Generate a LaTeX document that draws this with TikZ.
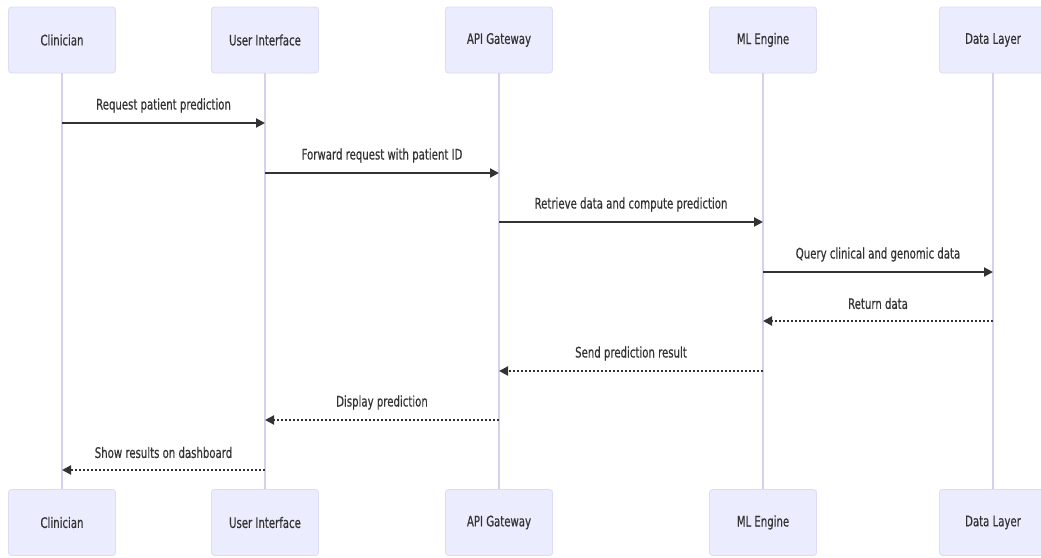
\documentclass[tikz,border=0pt]{standalone}
\usepackage{fontspec}
\setmainfont{DejaVu Sans}[FakeStretch=0.7,FakeBold=0.4]
\usetikzlibrary{arrows.meta}
\definecolor{actorfill}{HTML}{ECECFF}
\definecolor{actorline}{HTML}{DCDCF5}
\definecolor{lifeline}{HTML}{D2D2EE}
\definecolor{ink}{HTML}{333333}
\tikzset{
  actor/.style={draw=actorline, fill=actorfill, line width=0.8pt, rounded corners=3pt,
    minimum width=107pt, minimum height=66pt, inner sep=0pt, text=ink,
    font=\fontsize{14.5}{17}\selectfont},
  life/.style={draw=lifeline, line width=1.2pt},
  msg/.style={draw=ink, line width=2pt, -{Triangle[length=9pt,width=9pt]}},
  reply/.style={msg, dash pattern=on 2pt off 2pt},
  lbl/.style={text=ink, font=\fontsize{14.5}{17}\selectfont, inner sep=0pt}
}
\begin{document}
\begin{tikzpicture}[x=1pt,y=-1pt]
\clip (0,0) rectangle (1041,557);
\fill[white] (0,0) rectangle (1041,557);

% participants, top row and bottom row
\foreach \n/\x/\t in {1/62/Clinician,2/265/User Interface,3/499/API Gateway,4/763/ML Engine,5/993/Data Layer}{
  \node[actor] (t\n) at (\x,40) {\t};
  \node[actor] (b\n) at (\x,522.5) {\t};
}

% lifelines
\foreach \n in {1,...,5}{
  \draw[life] (t\n.south) -- (b\n.north);
}

% requests (solid) and replies (dotted), each with its label above
\foreach \a/\b/\y/\s/\t in {
  1/2/123/msg/Request patient prediction,
  2/3/173/msg/Forward request with patient ID,
  3/4/222/msg/Retrieve data and compute prediction,
  4/5/272/msg/Query clinical and genomic data,
  5/4/321/reply/Return data,
  4/3/371/reply/Send prediction result,
  3/2/420/reply/Display prediction,
  2/1/470/reply/Show results on dashboard}{
  \draw[\s] (t\a |- 0,\y) -- (t\b |- 0,\y)
    node[lbl, midway, yshift=17.5pt] {\t};
}
\end{tikzpicture}
\end{document}
